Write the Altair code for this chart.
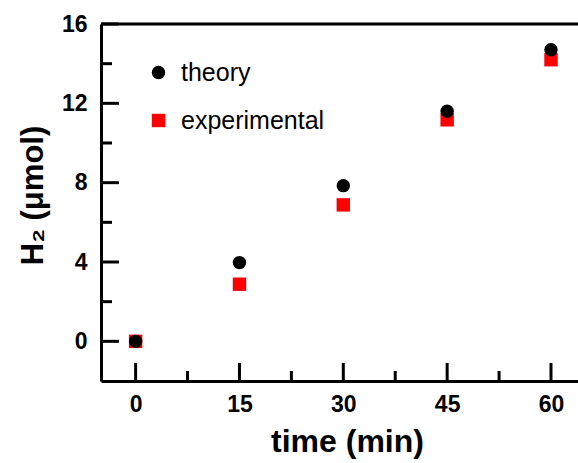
import altair as alt
import pandas as pd

time_min = [0, 15, 30, 45, 60]
theory = [0.0, 3.97, 7.85, 11.6, 14.7]
experimental = [0.0, 2.88, 6.88, 11.17, 14.2]
series_order = ["theory", "experimental"]

x_major = [0, 15, 30, 45, 60]
x_minor = [7.5, 22.5, 37.5, 52.5]
y_major = [0, 4, 8, 12, 16]
y_minor = [2, 6, 10, 14]
x_domain = [-5, 63.9]
y_domain = [-2, 16]

W, H = 477, 357
FONT = "Liberation Sans"
LW = 3

rows = []
for t, v in zip(time_min, experimental):
    rows.append({"time": t, "H2": v, "series": "experimental"})
for t, v in zip(time_min, theory):
    rows.append({"time": t, "H2": v, "series": "theory"})
df = pd.DataFrame(rows)

xs = alt.Scale(domain=x_domain, nice=False, zero=False)
ys = alt.Scale(domain=y_domain, nice=False, zero=False)

points = alt.Chart(df).mark_point(filled=True, opacity=1, strokeWidth=0, size=180).encode(
    x=alt.X("time:Q", scale=xs, axis=alt.Axis(
        values=x_major, ticks=False, tickSize=0, grid=False, domainColor="black",
        domainWidth=LW, labelFont=FONT, labelFontSize=23, labelFontWeight="bold",
        labelColor="black", labelPadding=12, title="time (min)", titleFont=FONT,
        titleFontSize=32, titleFontWeight="bold", titleColor="black",
        titleX=246, titleY=70, titleBaseline="alphabetic")),
    y=alt.Y("H2:Q", scale=ys, axis=alt.Axis(
        values=y_major, ticks=False, tickSize=0, grid=False, domainColor="black",
        domainWidth=LW, labelFont=FONT, labelFontSize=23, labelFontWeight="bold",
        labelColor="black", labelPadding=14, title="H₂ (μmol)", titleFont=FONT,
        titleFontSize=31, titleFontWeight="bold", titleColor="black",
        titleX=-59, titleY=171, titleBaseline="alphabetic", titleAngle=-90)),
    color=alt.Color("series:N", scale=alt.Scale(domain=series_order, range=["black", "#ff0000"]),
                    legend=alt.Legend(title=None, orient="none", legendX=45, legendY=36,
                                      labelFont=FONT, labelFontSize=25, labelColor="black",
                                      symbolSize=180, rowPadding=22, labelOffset=10,
                                      padding=0, symbolStrokeWidth=0)),
    shape=alt.Shape("series:N", scale=alt.Scale(domain=series_order, range=["circle", "square"]),
                    legend=None),
    order=alt.Order("ord:Q"),
).transform_calculate(ord="datum.series == 'theory' ? 1 : 0")

ymaj = alt.Chart(pd.DataFrame({"v": y_major})).mark_rule(color="black", strokeWidth=LW).encode(
    y=alt.Y("v:Q", scale=ys), x=alt.value(0), x2=alt.value(18))
ymin = alt.Chart(pd.DataFrame({"v": y_minor})).mark_rule(color="black", strokeWidth=LW).encode(
    y=alt.Y("v:Q", scale=ys), x=alt.value(0), x2=alt.value(11))
xmaj = alt.Chart(pd.DataFrame({"v": x_major})).mark_rule(color="black", strokeWidth=LW).encode(
    x=alt.X("v:Q", scale=xs), y=alt.value(H), y2=alt.value(H - 18))
xmin = alt.Chart(pd.DataFrame({"v": x_minor})).mark_rule(color="black", strokeWidth=LW).encode(
    x=alt.X("v:Q", scale=xs), y=alt.value(H), y2=alt.value(H - 10))
top = alt.Chart(pd.DataFrame({"v": [y_domain[1]]})).mark_rule(color="black", strokeWidth=LW).encode(
    y=alt.Y("v:Q", scale=ys), x=alt.value(0), x2=alt.value(W))

chart = alt.layer(ymaj, ymin, xmaj, xmin, top, points).properties(
    width=W, height=H,
    autosize=alt.AutoSizeParams(type="none"),
    padding={"left": 101, "top": 24, "right": 0, "bottom": 463 - 24 - H},
    background="white",
).configure_view(stroke=None)

chart.save("out.html", embed_options={"renderer": "svg", "actions": False})
